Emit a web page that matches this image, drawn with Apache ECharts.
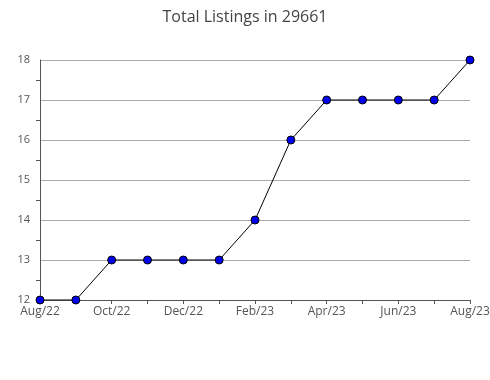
<!DOCTYPE html>
<html><head><meta charset="utf-8">
<script src="https://cdn.jsdelivr.net/npm/echarts@6/dist/echarts.min.js"></script>
<style>html,body{margin:0;padding:0;background:#fff}#c{width:490px;height:380px}</style>
</head><body><div id="c"></div>
<script>
const titleText = "Total Listings in 29661";
const categories = ["Aug/22","Sep/22","Oct/22","Nov/22","Dec/22","Jan/23","Feb/23","Mar/23","Apr/23","May/23","Jun/23","Jul/23","Aug/23"];
const listings = [12,12,13,13,13,13,14,16,17,17,17,17,18];
const yMin = 12, yMax = 18, yStep = 1;

const chart = echarts.init(document.getElementById('c'), null, {renderer:'canvas'});
chart.setOption({
  animation:false,
  title:{text:titleText,left:'center',top:4,textStyle:{fontFamily:'Open Sans',fontWeight:'normal',fontSize:16,color:'#444'}},
  grid:{left:40,right:20,top:60,bottom:80,containLabel:false,outerBoundsMode:'none'},
  xAxis:{type:'category',data:categories,boundaryGap:false,
    axisLine:{lineStyle:{color:'#555',width:1}},
    axisTick:{show:true,length:4,inside:false,interval:0,lineStyle:{color:'#555'}},
    axisLabel:{interval:1,color:'#555',fontFamily:'Open Sans',fontSize:12,margin:6}},
  yAxis:{type:'value',min:yMin,max:yMax,interval:yStep,
    axisLine:{show:true,lineStyle:{color:'#555',width:1}},
    axisTick:{show:false},
    minorTick:{show:true,splitNumber:2,length:4,lineStyle:{color:'#555'}},
    axisLabel:{color:'#555',fontFamily:'Open Sans',fontSize:11,margin:10},
    splitLine:{show:true,lineStyle:{color:'#aaa',width:1}}},
  series:[{type:'line',data:listings,symbol:'circle',symbolSize:8,
    lineStyle:{color:'#000',width:1},
    itemStyle:{color:'#0000ee',borderColor:'#000',borderWidth:1}}]
});
</script></body></html>
